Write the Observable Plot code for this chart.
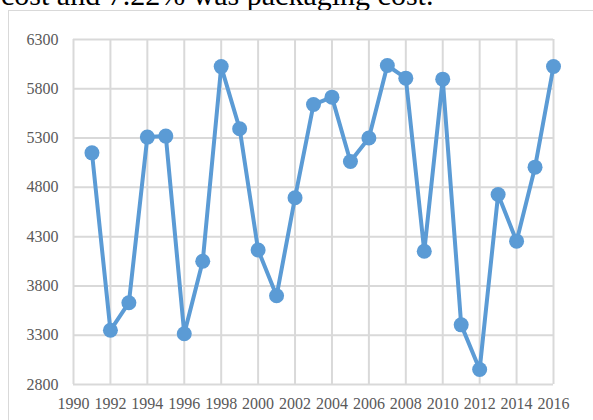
<!DOCTYPE html>
<html>
<head>
<meta charset="utf-8">
<script src="https://cdn.jsdelivr.net/npm/d3@7"></script>
<script src="https://cdn.jsdelivr.net/npm/@observablehq/plot@0.6"></script>
<style>
  html, body { margin: 0; padding: 0; width: 593px; height: 420px; overflow: hidden; background: #fff; }
  #lead { position: absolute; left: 1px; top: -20px; font-family: "Liberation Serif", "Times New Roman", serif; font-size: 30px; line-height: 30px; color: #000; white-space: nowrap; }
  #frame { position: absolute; left: 8px; top: 10px; width: 620px; height: 440px; border: 1px solid #d9d9d9; box-sizing: border-box; }
  #chart { position: absolute; left: 0; top: 0; }
  #chart svg, #chart svg text { font-family: "Liberation Serif", "Times New Roman", serif !important; font-size: 16px !important; }
</style>
</head>
<body>
<div id="lead">cost and 7.22% was packaging cost.</div>
<div id="frame"></div>
<div id="chart"></div>
<script>
const years = [1991,1992,1993,1994,1995,1996,1997,1998,1999,2000,2001,2002,2003,2004,2005,2006,2007,2008,2009,2010,2011,2012,2013,2014,2015,2016];
const values = [5150,3350,3630,5310,5320,3315,4050,6025,5395,4165,3700,4695,5640,5715,5062,5300,6036,5908,4152,5898,3405,2952,4728,4254,5005,6026];
const xTicks = [1990,1992,1994,1996,1998,2000,2002,2004,2006,2008,2010,2012,2014,2016];
const yTicks = [2800,3300,3800,4300,4800,5300,5800,6300];

const data = years.map((y, i) => ({year: y, value: values[i]}));

const chart = Plot.plot({
  width: 593,
  height: 420,
  marginLeft: 73,
  marginRight: 40,
  marginTop: 39,
  marginBottom: 36,
  style: { fontFamily: "Liberation Serif, serif", fontSize: "16px", color: "#595959", background: "transparent" },
  x: { domain: [1990, 2016], ticks: xTicks, tickFormat: "d", label: null },
  y: { domain: [2800, 6300], ticks: yTicks, tickFormat: "d", label: null },
  marks: [
    Plot.gridX(xTicks, { stroke: "#d9d9d9", strokeOpacity: 1, strokeWidth: 2 }),
    Plot.gridY(yTicks, { stroke: "#d9d9d9", strokeOpacity: 1, strokeWidth: 2 }),
    Plot.axisX(xTicks, { tickSize: 0, tickPadding: 13, tickFormat: "d", fill: "#595959", label: null }),
    Plot.axisY(yTicks, { tickSize: 0, tickPadding: 15, tickFormat: "d", fill: "#595959", label: null }),
    Plot.line(data, { x: "year", y: "value", stroke: "#5b9bd5", strokeWidth: 4 }),
    Plot.dot(data, { x: "year", y: "value", r: 7.5, fill: "#5b9bd5", stroke: "none" })
  ]
});
document.getElementById("chart").appendChild(chart);
</script>
</body>
</html>
